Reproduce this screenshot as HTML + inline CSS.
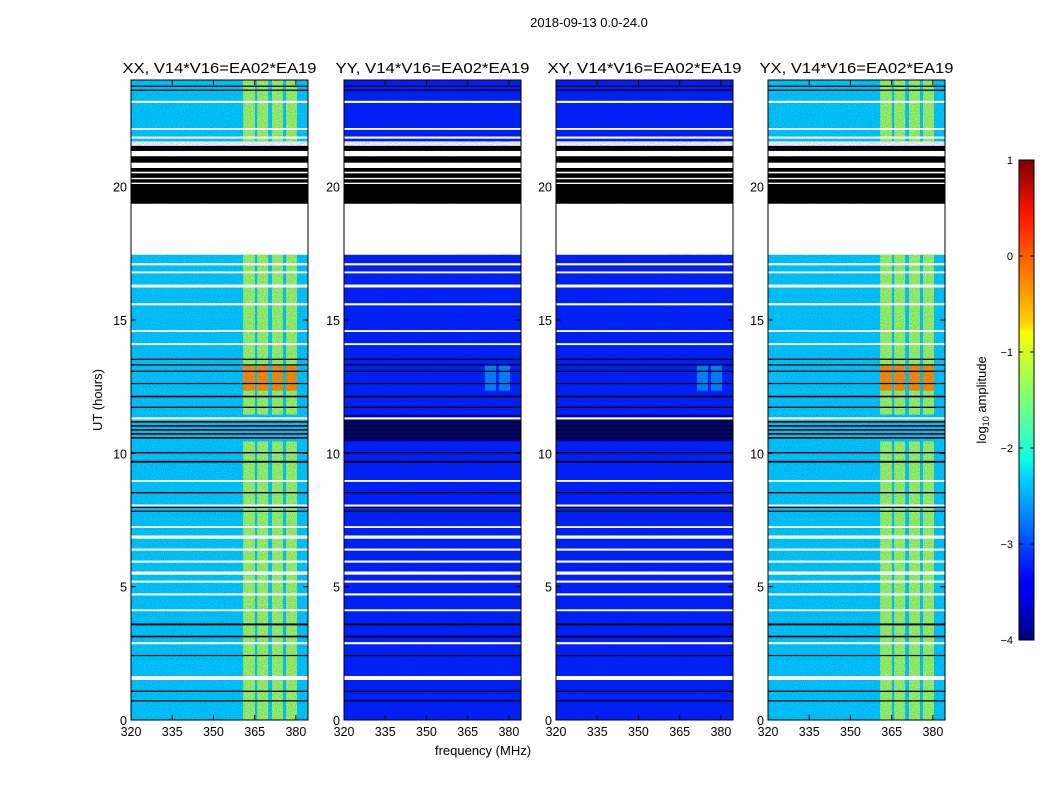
<!DOCTYPE html>
<html><head><meta charset="utf-8"><style>
body{margin:0;background:#fff;}
svg{display:block;font-family:"Liberation Sans",sans-serif;}
</style></head><body>
<svg id="fig" width="1050" height="800" viewBox="0 0 1050 800">
<defs>
<linearGradient id="jet" x1="0" y1="1" x2="0" y2="0">
<stop offset="0" stop-color="#00007f"/><stop offset="0.11" stop-color="#0000ff"/><stop offset="0.125" stop-color="#0000ff"/>
<stop offset="0.34" stop-color="#00d4ff"/><stop offset="0.375" stop-color="#0dffe7"/><stop offset="0.5" stop-color="#7cff79"/>
<stop offset="0.64" stop-color="#f7ff00"/><stop offset="0.66" stop-color="#ffd000"/><stop offset="0.89" stop-color="#ff1300"/><stop offset="1" stop-color="#7f0000"/>
</linearGradient>
<filter id="noise" x="0" y="0" width="1" height="1">
<feTurbulence type="fractalNoise" baseFrequency="0.9" numOctaves="1" seed="3"/>
<feColorMatrix values="0 0 0 0 0  0 0 0 0 0  0 0 0 0 0.3  0 0 0 0.9 -0.25"/>
</filter>
</defs>
<text x="589" y="27" font-size="13" text-anchor="middle">2018-09-13 0.0-24.0</text>
<g id="panels"></g>
<text x="0" y="0" font-size="13" text-anchor="middle" transform="translate(102,400) rotate(-90)">UT (hours)</text>
<text x="483" y="755" font-size="13" text-anchor="middle">frequency (MHz)</text>
<g id="cbar"></g>
<text x="0" y="0" font-size="13" text-anchor="middle" transform="translate(986,400) rotate(-90)">log<tspan font-size="9" dy="3">10</tspan><tspan dy="-3"> amplitude</tspan></text>
</svg>
<script>
const panelTitles=["XX, V14*V16=EA02*EA19","YY, V14*V16=EA02*EA19","XY, V14*V16=EA02*EA19","YX, V14*V16=EA02*EA19"];
const panelLeft=[131,344,556,768];
const baseLevel=[-2.35,-3.2,-3.2,-2.35];
const bandLevel=[-1.35,-3.2,-3.2,-1.35];
const hotLevel=[-0.35,-2.7,-2.7,-0.35];
const bandLo=[360.8,365.9,371.3,376.4];
const bandHi=[365.1,369.9,375.3,380.4];
const hotLoIdx=[0,2,2,0];
const hotStart=12.35, hotEnd=13.3;
const dataSegStart=[0,21.7];
const dataSegEnd=[17.45,24];
const darkStart=10.45, darkEnd=11.45;
const darkLevel=[-2.35,-3.9,-3.9,-2.35];
const whiteStart=[23.14,22.13,21.8,21.14,20.7,17.45,17.05,16.75,16.22,15.55,14.55,14.06,11.27,8.93,8.0,7.2,6.8,6.35,5.9,5.45,5.15,4.67,4.08,2.84,1.5];
const whiteEnd=[23.22,22.2,21.88,21.34,20.9,19.36,17.13,16.82,16.33,15.63,14.62,14.13,11.35,9.0,8.08,7.27,6.92,6.43,5.98,5.57,5.23,4.75,4.15,2.92,1.65];
const blackStart=[23.75,23.6,21.34,20.9,19.36,13.5,13.3,13.05,12.6,12.1,11.7,11.15,11.0,10.85,10.7,10.55,10.0,9.65,8.5,7.95,7.8,3.55,3.1,2.4,1.05,0.7];
const blackEnd=[23.79,23.64,21.53,21.14,20.7,13.55,13.34,13.1,12.64,12.16,11.75,11.21,11.06,10.91,10.76,10.61,10.05,9.72,8.55,8.0,7.85,3.62,3.16,2.44,1.1,0.74];
const thinWhiteStart=[20.5,20.28,20.1];
const thinWhiteEnd=[20.56,20.33,20.15];
const xTicks=[320,335,350,365,380];
const yTicks=[0,5,10,15,20];
const cbTicks=[1,0,-1,-2,-3,-4];

const NS="http://www.w3.org/2000/svg";
const fmin=320,fmax=384.4,tmin=0,tmax=24,pTop=80,pBot=720,pW=177;
function jet(v){const t=Math.max(0,Math.min(1,(v+4)/5));const c=x=>Math.round(255*Math.max(0,Math.min(1,x)));
return `rgb(${c(1.5-Math.abs(4*t-3))},${c(1.5-Math.abs(4*t-2))},${c(1.5-Math.abs(4*t-1))})`;}
function yS(h){return pBot-(h-tmin)/(tmax-tmin)*(pBot-pTop);}
function mk(tag,attrs,parent){const e=document.createElementNS(NS,tag);for(const k in attrs)e.setAttribute(k,attrs[k]);parent.appendChild(e);return e;}
const root=document.getElementById('panels');
panelTitles.forEach((title,p)=>{
  const L=panelLeft[p];
  const xS=f=>L+(f-fmin)/(fmax-fmin)*pW;
  const g=mk('g',{},root);
  
  
  for(let s=0;s<dataSegStart.length;s++){
    const y0=yS(dataSegEnd[s]),y1=yS(dataSegStart[s]);
    const r=mk('rect',{x:L,y:y0,width:pW,height:y1-y0,fill:jet(baseLevel[p])},g);
    
    
    for(let b=0;b<bandLo.length;b++){
      const br=mk('rect',{x:xS(bandLo[b]),y:y0,width:xS(bandHi[b])-xS(bandLo[b]),height:y1-y0,fill:jet(bandLevel[p])},g);
      
      
    }
  }
  const dr=mk('rect',{x:L,y:yS(darkEnd),width:pW,height:yS(darkStart)-yS(darkEnd),fill:jet(darkLevel[p])},g);
  
  
  for(let b=hotLoIdx[p];b<bandLo.length;b++){
    const hr=mk('rect',{x:xS(bandLo[b]),y:yS(hotEnd),width:xS(bandHi[b])-xS(bandLo[b]),height:yS(hotStart)-yS(hotEnd),fill:jet(hotLevel[p])},g);
    
    
  }
  mk('rect',{x:L,y:pTop,width:pW,height:pBot-pTop,fill:'#000',filter:'url(#noise)',opacity:0.5},g);
  for(let i=0;i<whiteStart.length;i++){
    const w=mk('rect',{x:L,y:yS(whiteEnd[i]),width:pW,height:Math.max(1.5,yS(whiteStart[i])-yS(whiteEnd[i])),fill:'#fff'},g);
    
    
  }
  for(let i=0;i<blackStart.length;i++){
    const k=mk('rect',{x:L,y:yS(blackEnd[i]),width:pW,height:Math.max(1.2,yS(blackStart[i])-yS(blackEnd[i])),fill:'#000'},g);
    
    
  }
  for(let i=0;i<thinWhiteStart.length;i++){
    const w=mk('rect',{x:L,y:yS(thinWhiteEnd[i]),width:pW,height:Math.max(1.2,yS(thinWhiteStart[i])-yS(thinWhiteEnd[i])),fill:'#fff'},g);
    
    
  }
  const fr=mk('rect',{x:L,y:pTop,width:pW,height:pBot-pTop,fill:'none',stroke:'#000','stroke-width':1},g);
  
  
  xTicks.forEach(v=>{
    const x=xS(v);
    mk('line',{x1:x,y1:pBot,x2:x,y2:pBot-5,stroke:'#000'},g);
    mk('line',{x1:x,y1:pTop,x2:x,y2:pTop+5,stroke:'#000'},g);
    const t=mk('text',{x:x,y:pBot+16,'font-size':12.5,'text-anchor':'middle'},g);
    t.textContent=v;
    
    
  });
  yTicks.forEach(v=>{
    const y=yS(v);
    mk('line',{x1:L,y1:y,x2:L+5,y2:y,stroke:'#000'},g);
    mk('line',{x1:L+pW,y1:y,x2:L+pW-5,y2:y,stroke:'#000'},g);
    const t=mk('text',{x:L-4,y:y+5,'font-size':12.5,'text-anchor':'end'},g);
    t.textContent=v;
    
    
  });
  const tt=mk('text',{x:L+pW/2,y:73,'font-size':15,'text-anchor':'middle',textLength:194,lengthAdjust:'spacingAndGlyphs'},g);
  tt.textContent=title;
  
  
});
const cb=document.getElementById('cbar');
const cT=160,cB=640,cL=1019,cW=15;
mk('rect',{x:cL,y:cT,width:cW,height:cB-cT,fill:'url(#jet)',stroke:'#000'},cb);
cbTicks.forEach(v=>{
  const y=cB-(v+4)/5*(cB-cT);
  mk('line',{x1:cL+cW,y1:y,x2:cL+cW-4,y2:y,stroke:'#000'},cb);
  mk('line',{x1:cL,y1:y,x2:cL+4,y2:y,stroke:'#000'},cb);
  const t=mk('text',{x:1013,y:y+4,'font-size':11,'text-anchor':'end'},cb);
  t.textContent=v<0?'\u2212'+(-v):v;
  
  
});
</script>
</body></html>
